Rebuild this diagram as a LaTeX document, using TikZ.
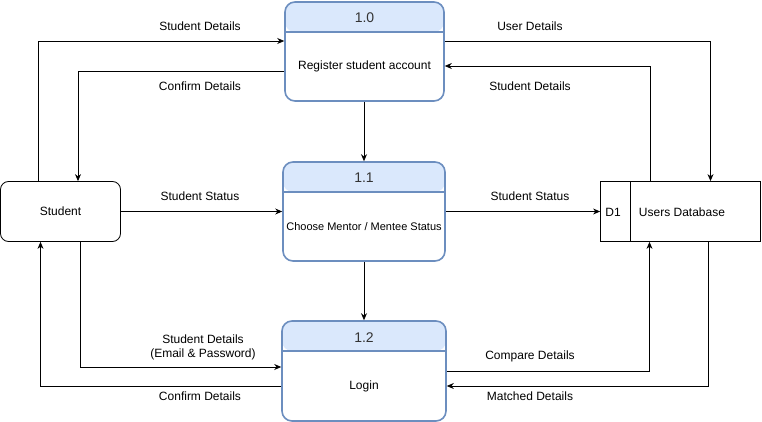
\documentclass[tikz,border=0pt]{standalone}
\usepackage{fontspec}
\setmainfont{Liberation Sans}
\usetikzlibrary{arrows.meta,calc}

\definecolor{headfill}{HTML}{DAE8FC}
\definecolor{headline}{HTML}{6C8EBF}

\tikzset{
	proc/.style={draw=headline, line width=1.6pt, rounded corners=10pt, fill=white,
		minimum width=#1, minimum height=99pt, inner sep=0pt,
		path picture={
			\fill[headfill] (path picture bounding box.north west) rectangle
				([yshift=-30pt]path picture bounding box.north east);
			\draw[headline, line width=1.6pt] ([yshift=-30pt]path picture bounding box.north west) --
				([yshift=-30pt]path picture bounding box.north east);
		}},
	proc/.default=160pt,
	ext/.style={draw, line width=0.8pt, rounded corners=8pt, minimum width=120pt,
		minimum height=60pt, inner sep=0pt},
	store/.style={draw, line width=0.8pt, minimum width=160pt, minimum height=60pt, inner sep=0pt},
	flow/.style={line width=0.8pt, -{Stealth[length=7pt,width=6pt]}},
	lbl/.style={font=\fontsize{12}{14}\selectfont, align=center, inner sep=1pt},
	ttl/.style={font=\fontsize{14}{16}\selectfont, text=black!80},
	txt/.style={font=\fontsize{12}{14}\selectfont}
}

\begin{document}
\begin{tikzpicture}[x=1pt, y=-1pt]
	\useasboundingbox (0,0) rectangle (762,422);

	% processes
	\node[proc=159pt] (p0) at (364.5,51.5) {};
	\node[proc=162pt] (p1) at (364,211.5) {};
	\node[proc=164pt, minimum height=100pt] (p2) at (364,371) {};
	\node[ttl] (p0t) at ($(p0.north)+(0,16)$) {1.0};
	\node[ttl] (p1t) at ($(p1.north)+(0,16)$) {1.1};
	\node[ttl] (p2t) at ($(p2.north)+(0,17)$) {1.2};
	\node[txt] (p0x) at ($(p0.north)+(0,65)$) {Register student account};
	\node[txt, font=\fontsize{11}{13}\selectfont] (p1x) at ($(p1.north)+(0,65)$) {Choose Mentor / Mentee Status};
	\node[txt] (p2x) at ($(p2.north)+(0,66)$) {Login};

	% entity and data store
	\node[ext, txt] (stu) at (60.5,211.5) {Student};
	\node[store] (db) at (680.5,211.5) {};
	\coordinate (dbcut) at (630.5,181.5);
	\draw[line width=0.8pt] (dbcut) -- (dbcut |- db.south);
	\node[txt] (dbid) at (613,212.5) {D1};
	\node[txt] (dbname) at (682,212.5) {Users Database};

	% flows
	\draw[flow] ($(stu.north)+(-22.5,0)$) |- ($(p0.west)+(0,-10.5)$);
	\draw[flow] ($(p0.west)+(0,19.5)$) -| ($(stu.north)+(17.5,0)$);
	\draw[flow] ($(p0.east)+(0,-10.5)$) -| ($(db.north)+(30,0)$);
	\draw[flow] ($(db.north)+(-30,0)$) |- ($(p0.east)+(0,14.5)$);
	\draw[flow] (p1.north |- p0.south) -- (p1.north);
	\draw[flow] (stu.east) -- (p1.west);
	\draw[flow] (p1.east) -- (db.west);
	\draw[flow] (p1.south) -- (p2.north);
	\draw[flow] ($(stu.south)+(20,0)$) |- ($(p2.west)+(0,-4)$);
	\draw[flow] ($(p2.west)+(0,15)$) -| ($(stu.south)+(-20,0)$);
	\draw[flow] (p2.east) -| ($(db.south)+(-31,0)$);
	\draw[flow] ($(db.south)+(28,0)$) |- ($(p2.east)+(0,15)$);

	% labels
	\node[lbl] (l1) at (200,26) {Student Details};
	\node[lbl] (l2) at (200,86) {Confirm Details};
	\node[lbl] (l3) at (530,26) {User Details};
	\node[lbl] (l4) at (530,86) {Student Details};
	\node[lbl] (l5) at (200,196) {Student Status};
	\node[lbl] (l6) at (530,196) {Student Status};
	\node[lbl] (l7) at (203,347) {Student Details\\(Email \& Password)};
	\node[lbl] (l8) at (200,396) {Confirm Details};
	\node[lbl] (l9) at (530,356) {Compare Details};
	\node[lbl] (l10) at (530,396) {Matched Details};
\end{tikzpicture}
\end{document}
